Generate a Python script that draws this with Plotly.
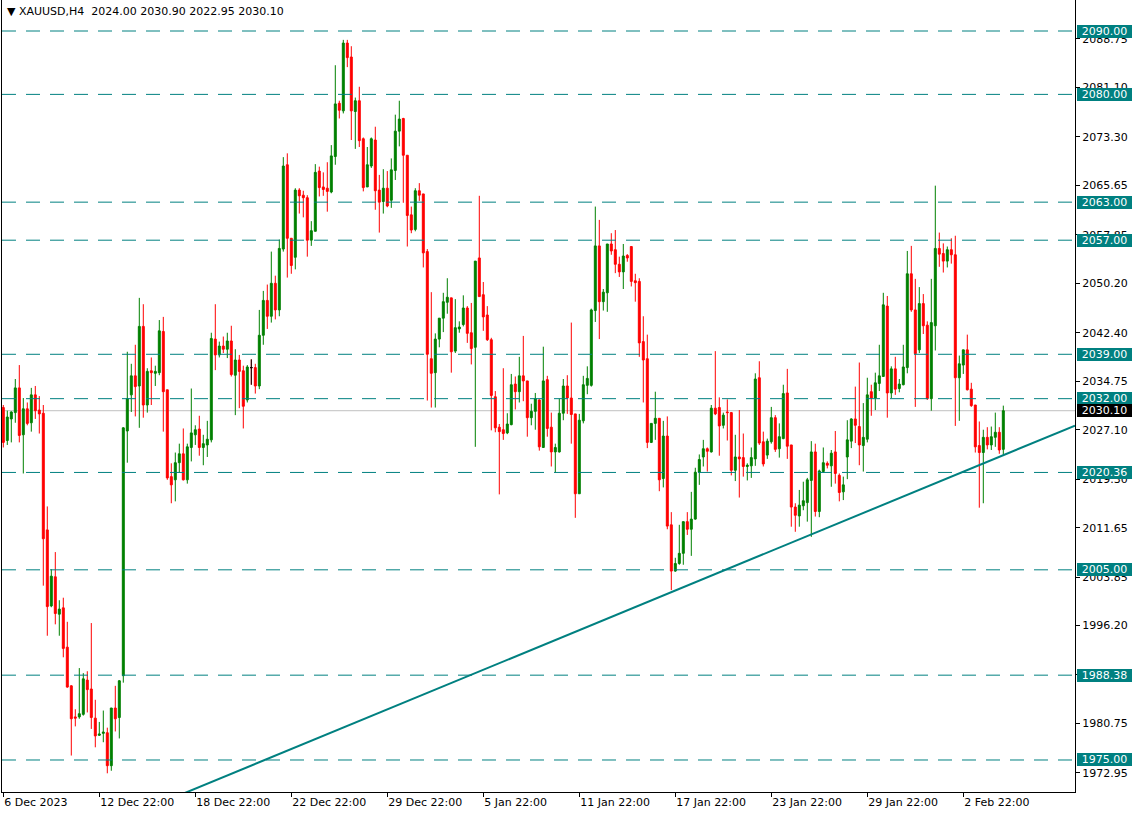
import plotly.graph_objects as go

# ---------------- data ----------------
opens = [
2030.6, 2025.4, 2028.8, 2029.8, 2033.7, 2026.3, 2030.4, 2028.2, 2032.6, 2030.2,
2029.7, 2011.3, 1999.3, 2003.9, 1998.0, 1999.0, 1992.8, 1986.7, 1981.8, 1981.8,
1982.2, 1987.6, 1986.2, 1981.6, 1978.9, 1979.2, 1979.3, 1974.1, 1983.2, 1981.7,
1988.3, 2026.9, 2032.6, 2035.6, 2034.0, 2043.4, 2031.0, 2036.4, 2036.0, 2036.1,
2042.6, 2033.4, 2019.7, 2019.2, 2021.9, 2023.3, 2019.2, 2024.3, 2026.3, 2027.2,
2024.3, 2024.7, 2025.5, 2041.4, 2038.9, 2040.3, 2039.8, 2041.1, 2035.7, 2038.1,
2036.4, 2031.8, 2036.9, 2036.9, 2034.0, 2042.0, 2047.5, 2045.0, 2050.2, 2046.0,
2055.6, 2068.9, 2057.3, 2054.3, 2064.9, 2064.1, 2063.7, 2057.0, 2058.4, 2067.9,
2065.4, 2065.2, 2064.6, 2070.2, 2078.6, 2077.4, 2088.1, 2085.9, 2077.3, 2079.0,
2073.0, 2065.4, 2068.7, 2072.8, 2064.9, 2063.1, 2065.2, 2063.3, 2068.0, 2074.2,
2076.2, 2070.4, 2061.0, 2058.7, 2064.8, 2064.3, 2055.2, 2038.3, 2036.1, 2041.4,
2044.7, 2047.2, 2047.9, 2039.5, 2043.0, 2043.7, 2046.3, 2042.4, 2040.1, 2054.2,
2048.4, 2045.2, 2041.3, 2032.3, 2027.5, 2027.1, 2026.6, 2027.9, 2034.3, 2033.1,
2035.6, 2034.8, 2029.0, 2030.0, 2031.8, 2024.3, 2035.0, 2027.5, 2023.6, 2023.6,
2029.7, 2034.0, 2032.1, 2029.6, 2017.0, 2028.5, 2034.1, 2034.1, 2045.9, 2056.1,
2047.3, 2048.7, 2056.4, 2055.5, 2053.2, 2052.0, 2054.6, 2056.0, 2050.6, 2050.5,
2041.0, 2038.3, 2025.1, 2028.1, 2028.9, 2019.4, 2026.1, 2012.1, 2004.8, 2006.0,
2007.6, 2012.6, 2011.4, 2013.0, 2020.4, 2022.8, 2024.1, 2023.6, 2030.5, 2030.6,
2027.8, 2029.9, 2029.8, 2020.7, 2022.8, 2022.7, 2021.3, 2021.4, 2022.5, 2035.3,
2025.2, 2023.1, 2025.2, 2029.0, 2024.1, 2025.7, 2032.9, 2024.7, 2014.9, 2013.5,
2015.1, 2015.6, 2019.1, 2023.6, 2014.2, 2020.5, 2021.8, 2021.4, 2023.6, 2019.9,
2017.3, 2022.8, 2025.3, 2028.8, 2027.6, 2024.6, 2025.6, 2033.1, 2032.1, 2034.4,
2035.5, 2046.6, 2032.9, 2036.7, 2033.6, 2034.2, 2036.9, 2051.7, 2046.0, 2039.7,
2047.0, 2043.6, 2032.0, 2043.5, 2055.7, 2054.9, 2053.7, 2055.5, 2054.7, 2035.3,
2037.3, 2039.7, 2033.5, 2031.0, 2024.6, 2023.5, 2025.9, 2024.7, 2025.9, 2026.7,
2024.00]

highs = [
2031.0, 2030.1, 2030.0, 2035.1, 2037.3, 2032.1, 2031.4, 2033.7, 2034.0, 2032.4,
2031.0, 2015.0, 2005.1, 2007.8, 2000.2, 2000.6, 1996.8, 1986.8, 1983.0, 1989.5,
1988.7, 1989.0, 1996.6, 1984.5, 1981.0, 1982.8, 1980.1, 1983.2, 1986.7, 1987.6,
2027.5, 2039.4, 2037.5, 2040.5, 2047.9, 2046.9, 2036.8, 2038.5, 2037.2, 2044.4,
2044.9, 2033.4, 2021.8, 2023.5, 2024.9, 2027.3, 2024.9, 2033.6, 2027.8, 2029.3,
2026.3, 2028.5, 2042.4, 2046.9, 2041.0, 2041.8, 2042.4, 2043.5, 2039.8, 2038.9,
2037.2, 2037.3, 2038.2, 2037.5, 2046.0, 2049.0, 2050.0, 2055.2, 2051.4, 2057.1,
2070.1, 2070.7, 2057.3, 2065.2, 2065.2, 2064.8, 2064.1, 2060.0, 2069.0, 2068.6,
2067.7, 2069.3, 2072.0, 2084.6, 2079.0, 2088.6, 2088.6, 2087.6, 2079.5, 2081.2,
2073.2, 2071.7, 2073.2, 2074.9, 2067.3, 2068.2, 2067.9, 2069.9, 2076.8, 2079.0,
2076.3, 2070.4, 2062.3, 2065.2, 2066.0, 2064.3, 2055.6, 2048.8, 2042.3, 2044.7,
2048.7, 2051.0, 2047.9, 2047.7, 2044.2, 2048.3, 2046.6, 2047.1, 2053.7, 2064.0,
2050.4, 2046.6, 2041.6, 2033.2, 2028.0, 2036.8, 2029.7, 2035.9, 2035.5, 2038.6,
2041.9, 2034.8, 2031.2, 2032.9, 2031.9, 2040.2, 2035.6, 2029.8, 2024.9, 2032.0,
2035.1, 2035.7, 2044.0, 2029.6, 2029.6, 2035.6, 2037.1, 2046.2, 2062.3, 2060.2,
2049.3, 2056.4, 2058.1, 2058.6, 2054.4, 2056.4, 2054.8, 2056.0, 2051.7, 2051.0,
2045.0, 2042.1, 2028.1, 2033.1, 2028.9, 2028.5, 2029.2, 2014.1, 2006.9, 2012.1,
2012.6, 2014.1, 2017.3, 2021.1, 2023.2, 2025.5, 2024.3, 2031.0, 2039.5, 2032.2,
2029.8, 2031.9, 2029.9, 2026.3, 2030.2, 2026.5, 2021.8, 2024.3, 2036.0, 2037.9,
2026.8, 2025.7, 2030.7, 2029.4, 2028.1, 2034.2, 2036.7, 2024.7, 2015.5, 2017.6,
2018.9, 2019.5, 2025.3, 2024.9, 2020.8, 2024.3, 2022.1, 2023.9, 2026.9, 2020.2,
2019.7, 2028.6, 2028.9, 2033.9, 2037.7, 2031.3, 2035.3, 2034.2, 2036.1, 2040.5,
2048.7, 2048.2, 2037.1, 2038.6, 2035.1, 2040.5, 2055.3, 2056.1, 2050.9, 2049.6,
2048.5, 2044.2, 2050.9, 2065.6, 2058.2, 2056.5, 2056.0, 2057.3, 2057.7, 2038.8,
2039.7, 2042.1, 2034.5, 2031.0, 2028.4, 2027.1, 2027.5, 2027.6, 2029.8, 2027.5,
2030.90]

lows = [
2024.3, 2024.7, 2025.1, 2028.2, 2025.1, 2020.2, 2027.8, 2026.8, 2028.8, 2026.5,
2002.5, 1994.6, 1999.1, 1996.4, 1994.6, 1991.2, 1986.4, 1975.7, 1980.3, 1981.5,
1982.0, 1982.5, 1979.9, 1977.0, 1978.8, 1977.8, 1972.9, 1973.3, 1979.5, 1978.4,
1987.2, 2021.9, 2029.9, 2029.2, 2027.4, 2029.0, 2029.8, 2031.0, 2034.0, 2035.7,
2026.8, 2019.2, 2015.5, 2015.8, 2020.3, 2019.1, 2018.6, 2022.1, 2024.7, 2023.0,
2021.5, 2022.8, 2025.1, 2036.5, 2038.5, 2039.2, 2038.4, 2035.5, 2029.4, 2030.5,
2027.3, 2031.4, 2034.2, 2032.8, 2033.5, 2040.5, 2043.0, 2044.0, 2044.5, 2045.0,
2055.2, 2051.1, 2051.7, 2052.4, 2061.2, 2060.6, 2054.4, 2056.1, 2058.4, 2063.9,
2064.0, 2061.5, 2064.4, 2068.9, 2076.2, 2077.0, 2084.3, 2072.8, 2071.4, 2071.7,
2064.7, 2065.4, 2068.4, 2061.8, 2058.2, 2061.2, 2062.2, 2062.1, 2066.5, 2071.8,
2062.9, 2056.0, 2058.1, 2058.4, 2063.2, 2052.7, 2031.7, 2030.6, 2030.6, 2040.1,
2042.5, 2045.4, 2036.1, 2039.2, 2042.4, 2043.4, 2040.8, 2037.4, 2024.4, 2048.1,
2042.7, 2041.1, 2027.0, 2026.7, 2016.9, 2025.5, 2026.4, 2027.8, 2030.3, 2031.4,
2031.6, 2026.0, 2027.8, 2027.1, 2023.8, 2024.3, 2026.0, 2021.3, 2020.3, 2023.5,
2028.6, 2029.6, 2024.9, 2013.2, 2017.0, 2028.1, 2032.7, 2033.9, 2044.1, 2041.4,
2045.9, 2045.7, 2054.7, 2051.8, 2051.2, 2049.3, 2053.6, 2049.7, 2047.3, 2038.6,
2031.4, 2024.2, 2025.0, 2025.5, 2017.4, 2018.0, 2011.4, 2001.8, 2004.7, 2005.8,
2005.8, 2010.5, 2007.2, 2012.9, 2018.4, 2021.3, 2020.5, 2023.5, 2029.4, 2023.0,
2027.3, 2025.4, 2019.9, 2019.0, 2016.4, 2019.7, 2019.1, 2019.5, 2021.4, 2024.7,
2021.3, 2022.5, 2024.9, 2023.6, 2022.7, 2025.6, 2022.5, 2011.8, 2011.0, 2011.8,
2014.4, 2012.6, 2010.2, 2013.4, 2013.3, 2020.3, 2021.0, 2018.1, 2018.6, 2015.8,
2016.0, 2019.3, 2024.2, 2025.0, 2021.5, 2020.5, 2025.1, 2029.3, 2030.2, 2033.2,
2035.5, 2029.0, 2032.1, 2032.6, 2033.0, 2034.1, 2036.0, 2045.7, 2030.7, 2039.2,
2042.2, 2031.8, 2030.1, 2039.6, 2052.8, 2051.9, 2052.7, 2053.3, 2027.7, 2028.5,
2035.9, 2033.3, 2030.7, 2023.5, 2014.8, 2015.5, 2024.0, 2023.9, 2024.4, 2023.3,
2022.95]

closes = [
2025.1, 2029.1, 2029.9, 2033.7, 2026.2, 2030.4, 2028.1, 2032.6, 2030.1, 2029.6,
2009.9, 1999.2, 2004.0, 1998.1, 1998.8, 1992.6, 1986.5, 1981.5, 1981.6, 1982.3,
1987.8, 1986.1, 1981.7, 1978.8, 1979.1, 1979.4, 1974.1, 1983.2, 1981.5, 1987.5,
2027.4, 2032.0, 2035.6, 2033.9, 2043.4, 2031.0, 2036.3, 2036.1, 2036.3, 2042.7,
2033.1, 2019.5, 2018.4, 2021.9, 2023.3, 2019.2, 2024.4, 2026.6, 2027.1, 2024.3,
2024.9, 2025.6, 2041.5, 2038.9, 2040.3, 2039.8, 2041.1, 2035.8, 2038.1, 2036.3,
2030.8, 2037.0, 2036.9, 2034.0, 2042.0, 2047.5, 2045.0, 2050.2, 2046.0, 2055.7,
2068.7, 2057.3, 2053.0, 2064.9, 2064.0, 2063.7, 2057.0, 2058.5, 2067.7, 2065.3,
2065.0, 2064.7, 2070.3, 2078.5, 2077.5, 2088.1, 2085.8, 2077.4, 2079.0, 2072.7,
2065.3, 2068.9, 2073.0, 2064.8, 2063.0, 2065.2, 2062.4, 2068.1, 2074.2, 2076.1,
2070.4, 2060.9, 2058.6, 2064.8, 2064.1, 2055.0, 2039.0, 2036.0, 2041.4, 2044.7,
2047.3, 2048.0, 2039.4, 2043.2, 2043.3, 2046.3, 2042.3, 2039.9, 2053.7, 2048.1,
2044.9, 2041.3, 2032.5, 2027.4, 2026.8, 2026.5, 2028.0, 2034.2, 2033.1, 2035.6,
2034.8, 2029.0, 2030.0, 2032.0, 2024.4, 2034.8, 2027.3, 2023.6, 2024.3, 2029.7,
2034.0, 2032.1, 2029.5, 2017.0, 2028.6, 2034.2, 2035.2, 2046.0, 2056.1, 2047.3,
2048.8, 2056.4, 2055.3, 2053.2, 2052.0, 2054.5, 2054.2, 2050.5, 2050.3, 2040.8,
2038.1, 2025.1, 2028.1, 2028.9, 2019.2, 2026.1, 2011.9, 2004.8, 2006.0, 2007.6,
2012.6, 2011.4, 2013.0, 2020.4, 2022.4, 2024.1, 2023.7, 2030.5, 2029.6, 2027.7,
2029.4, 2029.8, 2020.7, 2022.8, 2022.5, 2021.3, 2021.5, 2022.7, 2035.1, 2025.0,
2021.7, 2025.3, 2029.0, 2024.0, 2026.0, 2032.8, 2024.5, 2014.9, 2013.6, 2015.2,
2015.9, 2019.2, 2023.6, 2014.2, 2020.6, 2021.9, 2021.5, 2023.4, 2020.2, 2017.2,
2018.4, 2025.5, 2028.8, 2027.8, 2024.7, 2025.9, 2032.6, 2032.1, 2034.5, 2035.6,
2046.8, 2032.9, 2036.7, 2033.5, 2034.3, 2037.0, 2051.7, 2046.0, 2039.1, 2047.0,
2043.5, 2032.0, 2044.0, 2055.7, 2054.8, 2053.7, 2055.5, 2054.7, 2035.3, 2037.5,
2039.7, 2033.4, 2030.9, 2024.4, 2023.5, 2025.9, 2024.7, 2026.0, 2026.7, 2023.9,
2030.10]

bar_index = list(range(len(opens)))

time_tick_pos = [0, 24, 48, 72, 96, 120, 144, 168, 192, 216, 240]
time_tick_text = ["6 Dec 2023", "12 Dec 22:00", "18 Dec 22:00", "22 Dec 22:00",
                  "29 Dec 22:00", "5 Jan 22:00", "11 Jan 22:00", "17 Jan 22:00",
                  "23 Jan 22:00", "29 Jan 22:00", "2 Feb 22:00"]

price_ticks = [2088.75, 2081.10, 2073.30, 2065.65, 2057.85, 2050.20, 2042.40,
               2034.75, 2027.10, 2019.30, 2011.65, 2003.85, 1996.20, 1988.55,
               1980.75, 1972.95]

levels = [2090.00, 2080.00, 2063.00, 2057.00, 2039.00, 2032.00, 2020.36,
          2005.00, 1988.38, 1975.00]

trend_x = [45.4, 267.925]
trend_y = [1969.8, 2027.75]

symbol = "XAUUSD,H4"

# ---------------- figure ----------------
FONT = "DejaVu Sans, Tahoma, sans-serif"
TEAL = "#008080"
W, H = 1139, 816
L, R, T, B = 2, 64, 0, 24
plot_w = W - L - R
plot_h = H - T - B

fig = go.Figure()

fig.add_trace(go.Candlestick(
    x=bar_index, open=opens, high=highs, low=lows, close=closes,
    increasing=dict(line=dict(color="#008000", width=1), fillcolor="#008000"),
    decreasing=dict(line=dict(color="#ff0000", width=1), fillcolor="#ff0000"),
    whiskerwidth=0, hoverinfo="skip", showlegend=False,
))

# doji candles (open == close) drawn in black, as in the terminal
doji = [i for i in bar_index if opens[i] == closes[i]]
if doji:
    fig.add_trace(go.Candlestick(
        x=doji, open=[opens[i] for i in doji], high=[highs[i] for i in doji],
        low=[lows[i] for i in doji], close=[closes[i] for i in doji],
        increasing=dict(line=dict(color="#000000", width=1), fillcolor="#000000"),
        decreasing=dict(line=dict(color="#000000", width=1), fillcolor="#000000"),
        whiskerwidth=0, hoverinfo="skip", showlegend=False,
    ))

fig.add_trace(go.Scatter(
    x=trend_x, y=trend_y, mode="lines",
    line=dict(color=TEAL, width=2), hoverinfo="skip", showlegend=False,
))

shapes = []
# current price line
shapes.append(dict(type="line", xref="paper", x0=0, x1=1, yref="y",
                   y0=closes[-1], y1=closes[-1], layer="below",
                   line=dict(color="#c0c0c0", width=1)))
for lv in levels:
    shapes.append(dict(type="line", xref="paper", x0=0, x1=1, yref="y",
                       y0=lv, y1=lv, layer="above",
                       line=dict(color=TEAL, width=1, dash="14px,10px")))

annotations = []
box_x = (1077 - L) / plot_w
for lv in levels:
    annotations.append(dict(
        xref="paper", yref="y", x=box_x, y=lv, xanchor="left", yanchor="middle",
        text=f"{lv:.2f}", showarrow=False, bgcolor=TEAL,
        font=dict(family=FONT, size=11, color="white"),
        width=55, height=13, borderpad=0, borderwidth=0, align="center"))
annotations.append(dict(
    xref="paper", yref="y", x=box_x, y=closes[-1], xanchor="left", yanchor="middle",
    text=f"{closes[-1]:.2f}", showarrow=False, bgcolor="black",
    font=dict(family=FONT, size=11, color="white"),
    width=55, height=13, borderpad=0, borderwidth=0, align="center"))

annotations.append(dict(
    xref="paper", yref="paper", x=(5 - L) / plot_w, y=1 - 12 / plot_h,
    xanchor="left", yanchor="middle", showarrow=False,
    text=f"▼ {symbol}  {opens[-1]:.2f} {highs[-1]:.2f} {lows[-1]:.2f} {closes[-1]:.2f}",
    font=dict(family=FONT, size=11, color="black")))

px_per_bar = 4.0
x0_px = 3.3
x_lo = (L - x0_px) / px_per_bar
x_hi = x_lo + plot_w / px_per_bar

fig.update_layout(
    width=W, height=H, margin=dict(l=L, r=R, t=T, b=B, pad=0),
    paper_bgcolor="white", plot_bgcolor="white",
    font=dict(family=FONT, size=11, color="black"),
    shapes=shapes, annotations=annotations,
    showlegend=False, hovermode=False,
    xaxis=dict(range=[x_lo, x_hi], rangeslider=dict(visible=False),
               tickvals=time_tick_pos, ticktext=time_tick_text,
               ticks="outside", ticklen=4, tickcolor="black",
               ticklabelposition="outside right",
               showline=True, linecolor="black", linewidth=1, mirror=True,
               showgrid=False, zeroline=False, fixedrange=True),
    yaxis=dict(range=[1969.95, 2094.89], side="right",
               tickvals=price_ticks, ticktext=[f"{v:.2f}" for v in price_ticks],
               ticks="outside", ticklen=4, tickcolor="black",
               showline=True, linecolor="black", linewidth=1, mirror=True,
               showgrid=False, zeroline=False, fixedrange=True),
)

fig.write_html("out.html", config={"displayModeBar": False, "staticPlot": True},
               post_script="document.body.style.margin='0';")
